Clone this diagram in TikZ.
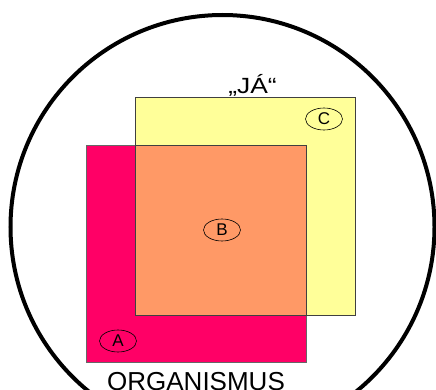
\documentclass[tikz,border=0pt]{standalone}
\usepackage{fontspec}
\setmainfont{Liberation Sans}
\usetikzlibrary{positioning,shapes.geometric}
\definecolor{jaYellow}{HTML}{FFFF99}
\definecolor{orgPink}{HTML}{FF0066}
\definecolor{mixOrange}{HTML}{FF9966}

\begin{document}
\begin{tikzpicture}[x=1pt,y=-1pt,
 box/.style={draw=black!75,line width=0.8pt,anchor=north west,inner sep=0pt},
 tag/.style={draw,ellipse,line width=0.6pt,minimum width=37pt,minimum height=22pt,inner sep=0pt,font=\fontsize{17}{17}\selectfont},
 big/.style={inner sep=0pt,font=\fontsize{26}{26}\selectfont}]
\useasboundingbox (0,0) rectangle (436,390);
\clip (0,0) rectangle (436,390);
% outer circle
\coordinate (mid) at (222.5,227);
\draw[line width=4pt] (mid) circle[radius=212pt];
% the two squares and their overlap
\node[box,fill=jaYellow,minimum width=220pt,minimum height=218pt] (ja) at (135,97) {};
\node[box,fill=orgPink,draw=black!60,minimum width=220pt,minimum height=217pt] (org) at (86,145) {};
\node[box,fill=mixOrange,minimum width=171pt,minimum height=170pt] (both) at (135,145) {};
% labels
\node[tag] (c) at (324,119) {C};
\node[tag] (b) at (222,230) {B};
\node[tag] (a) at (118,341) {A};
\node[inner sep=0pt,anchor=base,font=\fontsize{22}{22}\selectfont] (jaName) at (252.5,94) {\scalebox{1.2}[1]{„JÁ“}};
\node[big,anchor=north] (orgName) at (196,372) {ORGANISMUS};
\end{tikzpicture}
\end{document}
